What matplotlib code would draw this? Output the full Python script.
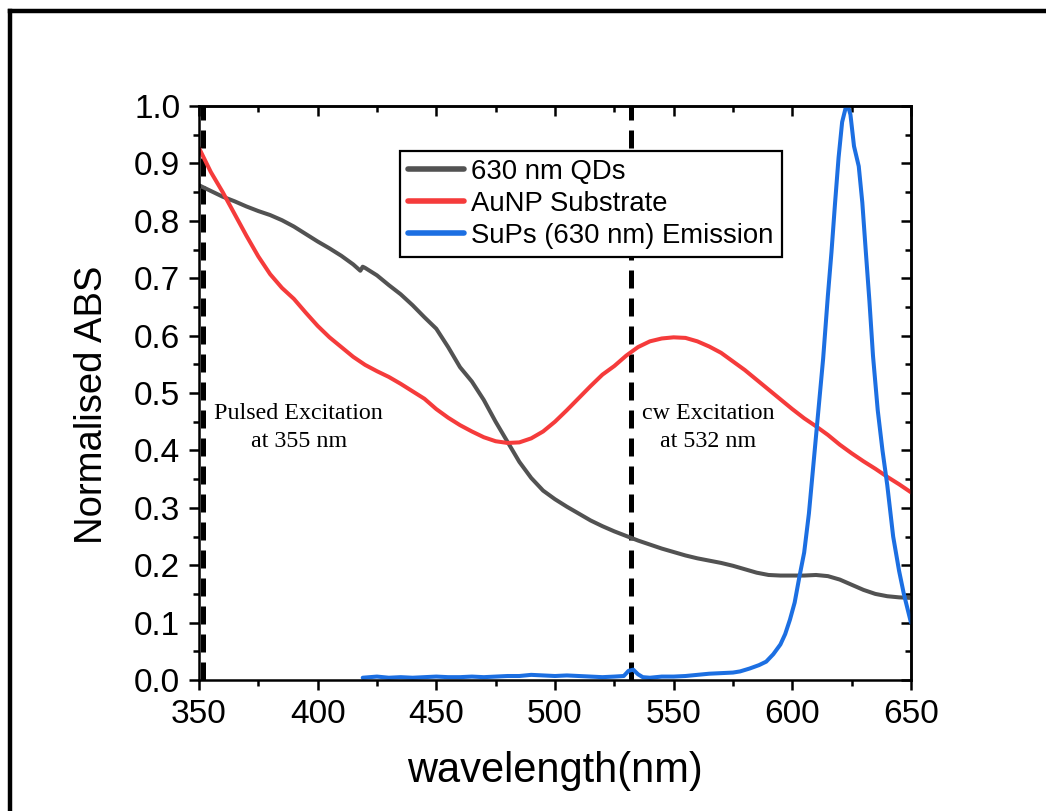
import matplotlib
matplotlib.use("Agg")
import matplotlib.pyplot as plt
from matplotlib.lines import Line2D
from matplotlib.ticker import MultipleLocator

plt.rcParams["font.family"] = ["Liberation Sans", "DejaVu Sans"]

# Absorbance of the 630 nm quantum dots
qd_wl = [350, 355, 360, 365, 370, 375, 380, 385, 390, 395, 400, 405, 410, 415,
         418, 419, 420, 425, 430, 435, 440, 445, 450, 455, 460, 465, 470, 475,
         480, 485, 490, 495, 500, 505, 510, 515, 520, 525, 530, 535, 540, 545,
         550, 555, 560, 565, 570, 575, 580, 585, 590, 595, 600, 605, 610, 615,
         620, 625, 630, 635, 640, 645, 650]
qd_abs = [0.862, 0.852, 0.842, 0.834, 0.825, 0.817, 0.810, 0.801, 0.790, 0.777,
          0.764, 0.752, 0.739, 0.724, 0.713, 0.720, 0.718, 0.705, 0.688, 0.672,
          0.653, 0.632, 0.612, 0.580, 0.545, 0.520, 0.488, 0.450, 0.415, 0.380,
          0.352, 0.330, 0.315, 0.302, 0.290, 0.278, 0.268, 0.259, 0.251, 0.243,
          0.236, 0.229, 0.223, 0.217, 0.212, 0.208, 0.204, 0.199, 0.193, 0.187,
          0.183, 0.182, 0.182, 0.182, 0.183, 0.181, 0.175, 0.166, 0.157, 0.150,
          0.146, 0.144, 0.143]

# Absorbance of the gold nanoparticle substrate
au_wl = [350, 355, 360, 365, 370, 375, 380, 385, 390, 395, 400, 405, 410, 415,
         420, 425, 430, 435, 440, 445, 450, 455, 460, 465, 470, 475, 480, 485,
         490, 495, 500, 505, 510, 515, 520, 525, 530, 535, 540, 545, 550, 555,
         560, 565, 570, 575, 580, 585, 590, 595, 600, 605, 610, 615, 620, 625,
         630, 635, 640, 645, 650]
au_abs = [0.927, 0.885, 0.850, 0.812, 0.774, 0.738, 0.707, 0.683, 0.664, 0.640,
          0.617, 0.597, 0.580, 0.563, 0.549, 0.538, 0.528, 0.516, 0.503, 0.490,
          0.472, 0.457, 0.444, 0.433, 0.423, 0.416, 0.413, 0.414, 0.421, 0.433,
          0.450, 0.470, 0.491, 0.512, 0.532, 0.547, 0.565, 0.580, 0.590, 0.595,
          0.597, 0.596, 0.590, 0.581, 0.570, 0.555, 0.540, 0.523, 0.506, 0.489,
          0.472, 0.456, 0.442, 0.427, 0.410, 0.395, 0.381, 0.368, 0.354, 0.341,
          0.327]

# Emission of the SuPs (630 nm)
em_wl = [419, 425, 430, 435, 440, 445, 450, 455, 460, 465, 470, 475, 480, 485,
         490, 495, 500, 505, 510, 515, 520, 525, 529, 531, 533, 535, 537, 540,
         545, 550, 555, 560, 565, 570, 575, 578, 582, 586, 589, 592, 595, 597,
         599, 601, 603, 605, 607, 609, 611, 613, 615, 616.5, 618, 619.5, 621,
         622.5, 623.5, 624.5, 626, 628, 629.5, 631, 632.5, 634, 636, 638, 640,
         642.5, 645, 647, 650]
em_int = [0.004, 0.006, 0.004, 0.005, 0.004, 0.005, 0.006, 0.005, 0.005, 0.006,
          0.005, 0.006, 0.007, 0.007, 0.009, 0.008, 0.007, 0.008, 0.007, 0.006,
          0.005, 0.006, 0.007, 0.016, 0.018, 0.010, 0.005, 0.004, 0.006, 0.006,
          0.007, 0.009, 0.011, 0.012, 0.013, 0.015, 0.020, 0.026, 0.032, 0.045,
          0.062, 0.080, 0.105, 0.135, 0.180, 0.222, 0.290, 0.380, 0.470, 0.560,
          0.670, 0.745, 0.830, 0.910, 0.972, 0.997, 1.000, 0.985, 0.930, 0.895,
          0.832, 0.745, 0.660, 0.565, 0.470, 0.400, 0.340, 0.250, 0.190, 0.150,
          0.100]

series_labels = ["630 nm QDs", "AuNP Substrate", "SuPs (630 nm) Emission"]
excitation_wl = [351.5, 532]
excitation_text = ["Pulsed Excitation\nat 355 nm", "cw Excitation\nat 532 nm"]
excitation_text_pos = [(392, 0.440), (564.5, 0.440)]

x_ticks = [350, 400, 450, 500, 550, 600, 650]
y_ticks = [0.0, 0.1, 0.2, 0.3, 0.4, 0.5, 0.6, 0.7, 0.8, 0.9, 1.0]

fig = plt.figure(figsize=(10.46, 8.11), dpi=100)
ax = fig.add_axes([0.1902, 0.1615, 0.6807, 0.7078])

lw = 2.9
ax.plot(qd_wl, qd_abs, color="#525252", lw=lw, label=series_labels[0],
        solid_joinstyle="round", solid_capstyle="round")
ax.plot(au_wl, au_abs, color="#f53b3b", lw=lw, label=series_labels[1],
        solid_joinstyle="round", solid_capstyle="round")
ax.plot(em_wl, em_int, color="#1c6fe2", lw=lw, label=series_labels[2],
        solid_joinstyle="round", solid_capstyle="round")

for xv in excitation_wl:
    ax.axvline(xv, color="black", lw=3.6, dashes=(3.6, 2.0), zorder=1)

for txt, (tx, ty) in zip(excitation_text, excitation_text_pos):
    ax.text(tx, ty, txt, ha="center", va="center", fontsize=17.3,
            family=["Liberation Serif", "DejaVu Serif"], linespacing=1.4)

ax.set_xlim(350, 650)
ax.set_ylim(0, 1.0)
ax.set_xticks(x_ticks)
ax.set_yticks(y_ticks)
ax.set_yticklabels([f"{v:.1f}" for v in y_ticks])
ax.xaxis.set_minor_locator(MultipleLocator(25))
ax.yaxis.set_minor_locator(MultipleLocator(0.05))

for sp in ax.spines.values():
    sp.set_linewidth(1.8)

ax.tick_params(which="major", direction="out", length=7.5, width=1.8,
               labelsize=24, top=False, right=False)
ax.tick_params(which="minor", direction="out", length=4, width=1.8,
               top=False, right=False)
ax.tick_params(axis="x", which="major", pad=6)
ax.tick_params(axis="y", which="major", pad=6)

# inward ticks on the top and right edges
top = ax.secondary_xaxis("top")
top.set_xticks(x_ticks)
top.xaxis.set_minor_locator(MultipleLocator(25))
top.tick_params(which="major", direction="in", length=7.5, width=1.8, labeltop=False)
top.tick_params(which="minor", direction="in", length=4, width=1.8)
top.spines["top"].set_linewidth(1.8)

right = ax.secondary_yaxis("right")
right.set_yticks(y_ticks)
right.yaxis.set_minor_locator(MultipleLocator(0.05))
right.tick_params(which="major", direction="in", length=7.5, width=1.8, labelright=False)
right.tick_params(which="minor", direction="in", length=4, width=1.8)
right.spines["right"].set_linewidth(1.8)

ax.set_xlabel("wavelength(nm)", fontsize=30)
ax.set_ylabel("Normalised ABS", fontsize=27.5)
ax.xaxis.set_label_coords(0.5, -0.124)
ax.yaxis.set_label_coords(-0.125, 0.48)

leg = ax.legend(loc="upper left", bbox_to_anchor=(0.282, 0.922), borderaxespad=0,
                fontsize=19.8, frameon=True, fancybox=False, handlelength=2.05,
                handletextpad=0.25, labelspacing=0.22, borderpad=0.3,
                edgecolor="black", framealpha=1)
leg.get_frame().set_linewidth(1.6)
for h in leg.get_lines():
    h.set_linewidth(4)

# outer frame
fig.add_artist(Line2D([0.0094, 1.0], [0.986, 0.986], color="black", lw=3.2,
                      transform=fig.transFigure))
fig.add_artist(Line2D([0.0094, 0.0094], [0.0, 0.986], color="black", lw=3.2,
                      transform=fig.transFigure))

fig.savefig("out.png", dpi=100)
